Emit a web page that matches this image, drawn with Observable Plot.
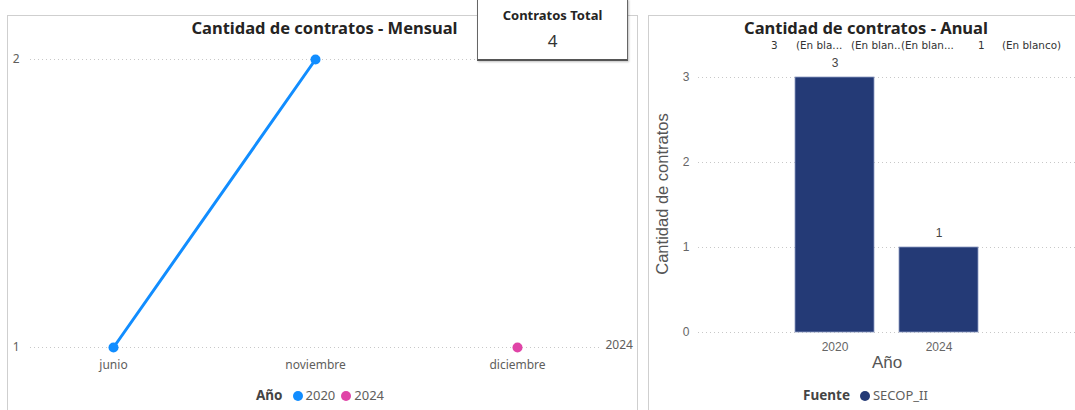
<!DOCTYPE html>
<html><head><meta charset="utf-8">
<script src="https://cdn.jsdelivr.net/npm/d3@7"></script>
<script src="https://cdn.jsdelivr.net/npm/@observablehq/plot@0.6"></script>
<style>
body{margin:0;background:#fff;}
#page{position:relative;width:1075px;height:410px;overflow:hidden;background:#fff;font-family:"Noto Sans","Open Sans",sans-serif;}
.panel{position:absolute;border:1px solid #cfcfcf;background:#fff;}
.abs{position:absolute;white-space:nowrap;}
.title{font-weight:bold;font-size:16.5px;color:#252423;text-align:center;line-height:20px;}
.leg{font-size:13px;color:#605E5C;line-height:16px;}
.leg b{color:#444;font-size:13.5px;margin-right:10px;}
.leg .item{margin-right:6px;}
.dot{display:inline-block;width:10px;height:10px;border-radius:50%;vertical-align:-1px;margin-right:3px;}
.toprow{font-family:"DejaVu Sans",sans-serif;font-size:10.4px;color:#333;line-height:14px;}
</style></head><body><div id="page">
<div class="panel" style="left:7px;top:15px;width:629px;height:420px"></div>
<div class="panel" style="left:648px;top:15px;width:440px;height:420px"></div>
<div id="left" class="abs" style="left:0;top:0"></div>
<div id="right" class="abs" style="left:648px;top:0"></div>
<div class="abs title" style="left:0;width:649px;top:18px" id="tleft"></div>
<div class="abs title" style="left:648px;width:436px;top:18px" id="tright"></div>
<div id="card" class="abs" style="left:477px;top:-1px;width:149px;height:59px;border:1px solid #666;border-bottom:2px solid #555;background:#fff;box-shadow:1px 1px 2px rgba(0,0,0,0.25);text-align:center;">
  <div id="cardTitle" style="font-weight:bold;font-size:13px;color:#252423;margin-top:6px;line-height:18px;"></div>
  <div id="cardValue" style="font-size:17px;color:#333;line-height:22px;margin-top:6px;"></div>
</div>
<div id="legLeft" class="abs leg" style="left:256px;top:387px"></div>
<div id="legRight" class="abs leg" style="left:803px;top:387px"></div>
<div id="topRow"></div>
</div>
<script>
// ---- data ----
const monthTitle = "Cantidad de contratos - Mensual";
const annualTitle = "Cantidad de contratos - Anual";
const cardTitle = "Contratos Total";
const months = ["junio", "noviembre", "diciembre"];
const monthlyMonth = ["junio", "noviembre", "diciembre"];
const monthlyYear = ["2020", "2020", "2024"];
const monthlyCount = [1, 2, 1];
const years = ["2020", "2024"];
const yearColors = ["#118DFF", "#E044A7"];
const annualYear = ["2020", "2024"];
const annualCount = [3, 1];
const fuentes = ["SECOP_II"];
const fuenteColors = ["#243A76"];
const topRowLabels = ["3", "(En bla...", "(En blan..", "(En blan...", "1", "(En blanco)"];
// layout only
const topRowLeft = [771, 796, 851, 901, 978, 1002];

document.getElementById("tleft").textContent = monthTitle;
document.getElementById("tright").textContent = annualTitle;
document.getElementById("cardTitle").textContent = cardTitle;
document.getElementById("cardValue").textContent = d3.sum(annualCount);

const monthly = monthlyMonth.map((m, i) => ({month: m, year: monthlyYear[i], count: monthlyCount[i]}));
const lastYear = monthly[monthly.length - 1];

const grid = {stroke: "#c8c8c8", strokeOpacity: 1, strokeDasharray: "1,3"};

const left = Plot.plot({
  width: 640, height: 410,
  marginLeft: 30, marginRight: 40, marginTop: 59, marginBottom: 63,
  style: {fontFamily: "'Noto Sans', sans-serif", fontSize: "12px", color: "#605E5C", background: "transparent", overflow: "visible"},
  x: {type: "point", domain: months, padding: 0.404, label: null},
  y: {domain: [1, 2], label: null},
  color: {domain: years, range: yearColors},
  marks: [
    Plot.gridY([1, 2], grid),
    Plot.axisY({ticks: [1, 2], tickSize: 0, tickPadding: 11, label: null, tickFormat: d => String(d)}),
    Plot.axisX({tickSize: 0, tickPadding: 13, label: null}),
    Plot.line(monthly, {x: "month", y: "count", z: "year", stroke: "year", strokeWidth: 3}),
    Plot.dot(monthly, {x: "month", y: "count", fill: "year", r: 5}),
    Plot.text([lastYear], {y: "count", text: "year", frameAnchor: "right", textAnchor: "start", dx: 5, dy: -2, fill: "#605E5C"})
  ]
});
document.getElementById("left").appendChild(left);

const annual = annualYear.map((y, i) => ({year: y, count: annualCount[i]}));
const right = Plot.plot({
  width: 427, height: 410,
  marginLeft: 50, marginRight: 0, marginTop: 77, marginBottom: 78,
  style: {fontFamily: "'Liberation Sans', Arial, sans-serif", fontSize: "12px", color: "#666", background: "transparent", overflow: "visible"},
  x: {type: "band", domain: annualYear, paddingInner: 0.24, paddingOuter: 0.92, label: null},
  y: {domain: [0, 3], label: null},
  marks: [
    Plot.gridY([0, 1, 2, 3], grid),
    Plot.axisY({ticks: [0, 1, 2, 3], tickSize: 0, tickPadding: 9, label: null, tickFormat: d => String(d)}),
    Plot.axisX({tickSize: 0, tickPadding: 10, label: null}),
    Plot.barY(annual, {x: "year", y: "count", fill: fuenteColors[0], stroke: "#8d9bc2", strokeWidth: 0.8}),
    Plot.text(annual, {x: "year", y: "count", text: d => String(d.count), dy: -14, fill: "#444", fontSize: 12}),
    Plot.text(["Cantidad de contratos"], {frameAnchor: "left", textAnchor: "middle", rotate: -90, dx: -36, dy: -11, fontSize: 16.5, fill: "#555"}),
    Plot.text(["Año"], {frameAnchor: "bottom", dy: 35, fontSize: 17, fill: "#555"})
  ]
});
document.getElementById("right").appendChild(right);

// legends
const legendHTML = (title, names, colors) => `<b>${title}</b>` + names.map((n, i) =>
  `<span class="item"><span class="dot" style="background:${colors[i]}"></span>${n}</span>`).join("");
document.getElementById("legLeft").innerHTML = legendHTML("Año", years, yearColors);
document.getElementById("legRight").innerHTML = legendHTML("Fuente", fuentes, fuenteColors);

// top row labels
const topRow = document.getElementById("topRow");
topRowLabels.forEach((t, i) => {
  const s = document.createElement("div");
  s.className = "abs toprow";
  s.style.left = topRowLeft[i] + "px";
  s.style.top = "38px";
  s.textContent = t;
  topRow.appendChild(s);
});
</script>
</body></html>
